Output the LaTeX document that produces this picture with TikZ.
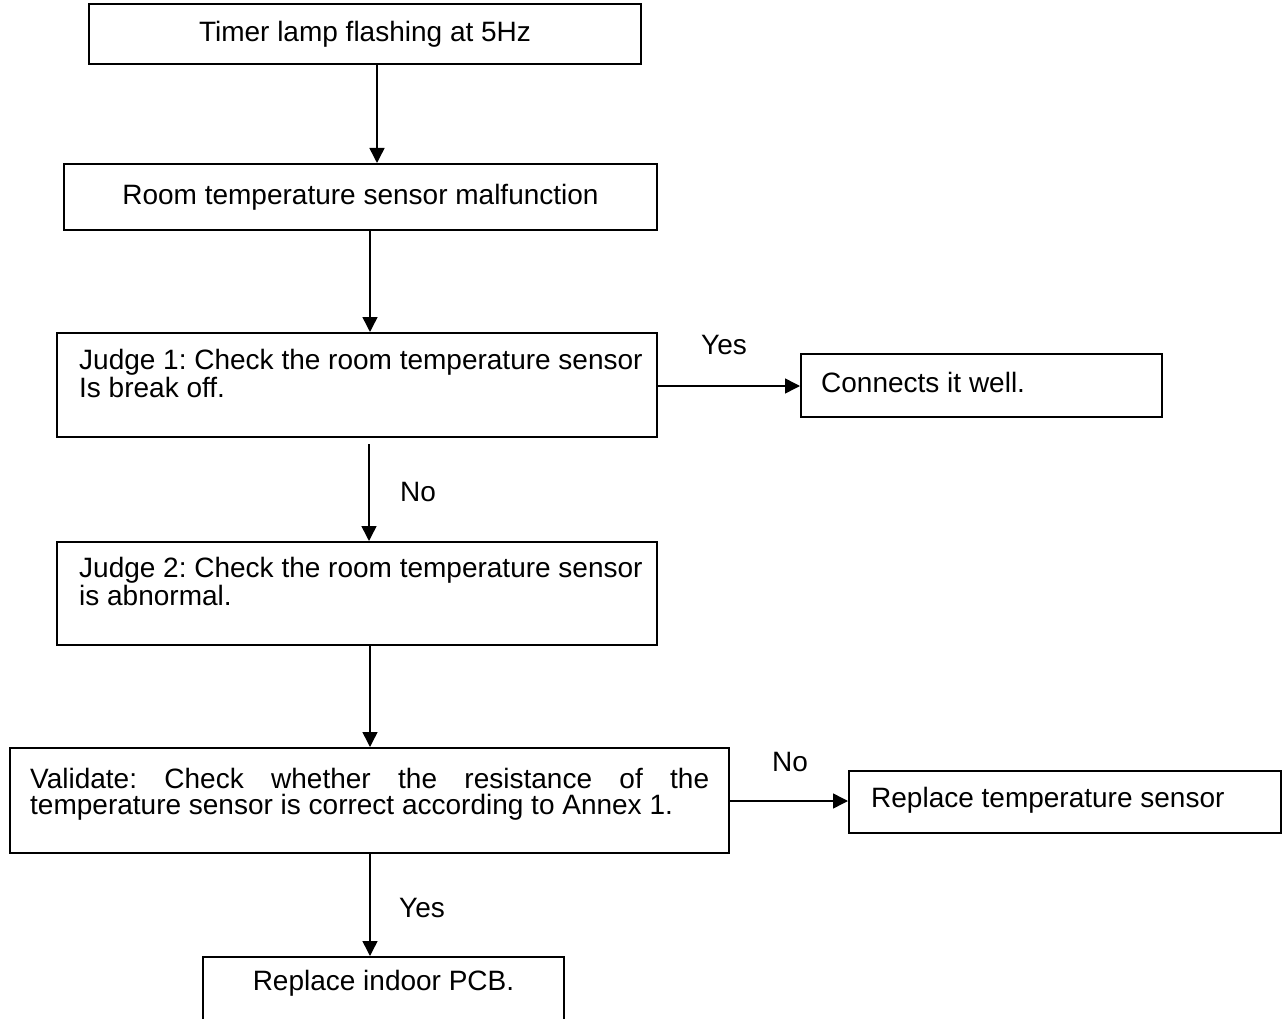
\documentclass[tikz,border=0pt]{standalone}
\usepackage{fontspec}
\setmainfont{Liberation Sans}
\usetikzlibrary{arrows.meta,calc}
\frenchspacing
\begin{document}
\begin{tikzpicture}[x=1pt,y=-1pt,
  box/.style={draw=black,line width=2pt,inner sep=0pt,rectangle},
  txt/.style={inner sep=0pt,font=\fontsize{28}{26}\selectfont,align=left},
  lbl/.style={inner sep=0pt,font=\fontsize{28}{26}\selectfont},
  arr/.style={line width=1.5pt,-{Triangle[length=15pt,width=15pt]}}]
\useasboundingbox (0,0) rectangle (1283,1019);
\clip (0,0) rectangle (1283,1019);
% boxes
\node[box,minimum width=552pt,minimum height=60pt,font=\fontsize{28}{26}\selectfont] (b1) at (365,34) {Timer lamp flashing at 5Hz};
\node[box,minimum width=593pt,minimum height=66pt,font=\fontsize{28}{26}\selectfont] (b2) at (360.5,197) {Room temperature sensor malfunction};
\node[box,minimum width=600pt,minimum height=104pt] (j1) at (357,385) {};
\node[box,minimum width=361pt,minimum height=63pt] (c1) at (981.5,385.5) {};
\node[box,minimum width=600pt,minimum height=103pt] (j2) at (357,593.5) {};
\node[box,minimum width=719pt,minimum height=105pt] (v) at (369.5,800.5) {};
\node[box,minimum width=432pt,minimum height=62pt] (r1) at (1065,802) {};
\node[box,minimum width=361pt,minimum height=90pt] (pcb) at (383.5,1002) {};
% texts (base west = baseline of the last line)
\node[txt,anchor=base west] (j1t) at (79,397) {Judge 1: Check the room temperature sensor\\Is break off.};
\node[txt,anchor=base west] (c1t) at (821,392) {Connects it well.};
\node[txt,anchor=base west] (j2t) at (79,605) {Judge 2: Check the room temperature sensor\\is abnormal.};
\node[txt,anchor=base west] (vt) at (30,814) {\makebox[679pt][s]{Validate: Check whether the resistance of the}\\temperature sensor is correct according to Annex 1.};
\node[txt,anchor=base west] (r1t) at (871,807) {Replace temperature sensor};
\node[lbl] (pcbt) at (383.5,983) {Replace indoor PCB.};
% labels
\node[lbl] (l1) at (724,345) {Yes};
\node[lbl] (l2) at (418,492) {No};
\node[lbl] (l3) at (790,762) {No};
\node[lbl] (l4) at (422,908) {Yes};
% connectors
\draw[arr] (b1.south -| 377,0) -- (b2.north -| 377,0);
\draw[arr] (b2.south -| 370,0) -- (j1.north -| 370,0);
\draw[arr] (j1.east |- 0,386) -- (c1.west |- 0,386);
\coordinate (j1s) at ($(j1.south -| 369,0)+(0,6)$);
\draw[arr] (j1s) -- (j2.north -| 369,0);
\draw[arr] (j2.south -| 370,0) -- (v.north -| 370,0);
\draw[arr] (v.east |- 0,801) -- (r1.west |- 0,801);
\draw[arr] (v.south -| 370,0) -- (pcb.north -| 370,0);
\end{tikzpicture}
\end{document}
